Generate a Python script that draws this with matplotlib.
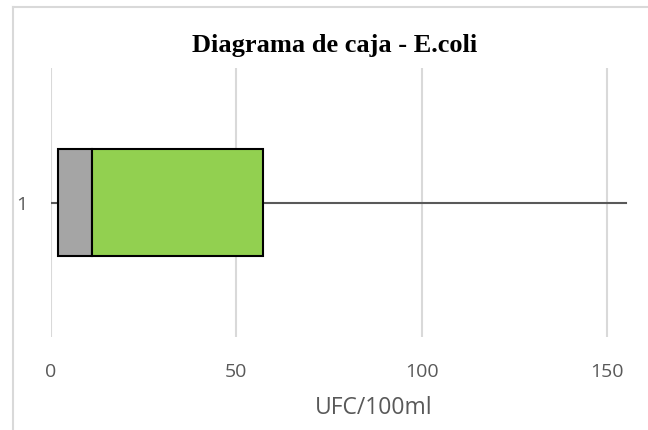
import matplotlib.pyplot as plt
from matplotlib.lines import Line2D

# box plot summary values (UFC/100ml)
categories = ['1']
minimum = [0.2]
q1 = [2.0]
median = [11.2]
q3 = [57.3]
maximum = [155.0]

fig = plt.figure(figsize=(6.48, 4.30), dpi=100)
ax = fig.add_axes([50.5/648, 1-337/430, 1-50.5/648, 269/430])

y = [1]
# lower box (q1 -> median) and upper box (median -> q3)
ax.barh(y, [m - a for m, a in zip(median, q1)], left=q1, height=0.4,
        color='#A5A5A5', edgecolor='black', linewidth=1.5, zorder=3)
ax.barh(y, [b - m for b, m in zip(q3, median)], left=median, height=0.4,
        color='#92D050', edgecolor='black', linewidth=1.5, zorder=3)

# whiskers
for yy, lo, a, b, hi in zip(y, minimum, q1, q3, maximum):
    ax.plot([lo, a], [yy, yy], color='#595959', lw=1.5, zorder=2)
    ax.plot([b, hi], [yy, yy], color='#595959', lw=1.5, zorder=2)

ax.set_xlim(0, 161)
ax.set_ylim(0.5, 1.5)
ax.set_xticks([0, 50, 100, 150])
ax.set_yticks(y)
ax.set_yticklabels(categories)
ax.grid(axis='x', color='#D9D9D9', lw=1.5, zorder=0)
for s in ax.spines.values():
    s.set_visible(False)
ax.tick_params(length=0, labelsize=14, labelcolor='#595959')
ax.tick_params(axis='x', pad=19)
ax.tick_params(axis='y', pad=17)
for lab in ax.get_xticklabels() + ax.get_yticklabels():
    lab.set_family('Open Sans')

fig.text(374/648, 1-408/430, 'UFC/100ml', ha='center', va='center',
         fontsize=16.5, color='#595959', family='Open Sans')

fig.text(335/648, 1-52/430, 'Diagrama de caja - E.coli', ha='center', va='baseline',
         fontsize=19, fontweight='bold', family='Liberation Serif')

# chart area border (left and top edges visible)
fig.add_artist(Line2D([12.5/648, 12.5/648], [0, 1-7/430], color='#D9D9D9', lw=1.5))
fig.add_artist(Line2D([12.5/648, 1], [1-7/430, 1-7/430], color='#D9D9D9', lw=1.5))

fig.savefig('out.png', dpi=100)
